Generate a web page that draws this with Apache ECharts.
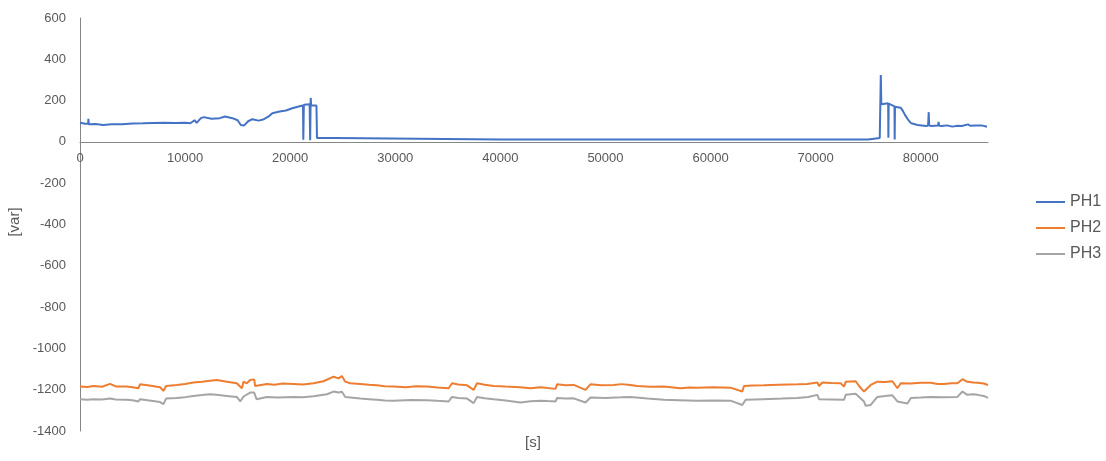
<!DOCTYPE html>
<html><head><meta charset="utf-8">
<script src="https://cdn.jsdelivr.net/npm/echarts@6/dist/echarts.min.js"></script>
<style>html,body{margin:0;padding:0;background:#fff}#c{width:1106px;height:461px}</style>
</head><body><div id="c"></div>
<script>
const seriesNames = ['PH1', 'PH2', 'PH3'];
const xTicks = [0, 10000, 20000, 30000, 40000, 50000, 60000, 70000, 80000];
const yTicks = [-1400, -1200, -1000, -800, -600, -400, -200, 0, 200, 400, 600];

const ph1Time = [0, 500, 780, 800, 830, 1500, 2200, 3000, 4000, 5000, 6000, 7000, 8000, 9000, 10000, 10500, 10900, 11100, 11500, 11800, 12500, 13300, 13800, 14500, 15000, 15300, 15600, 16000, 16400, 17000, 17500, 18000, 18300, 19000, 19600, 20200, 20800, 21220, 21250, 21300, 21850, 21900, 21950, 22000, 22500, 22550, 24300, 24350, 40000, 60000, 75000, 75100, 76100, 76150, 76200, 76250, 76900, 76920, 76950, 77500, 77520, 77550, 77800, 78100, 78300, 78500, 78800, 79100, 79700, 80500, 80700, 80760, 80800, 81000, 81650, 81700, 81750, 82000, 82500, 83000, 83500, 83900, 84500, 84700, 85200, 85800, 86300];
const ph1Values = [93, 88, 88, 112, 86, 87, 82, 86, 85, 89, 90, 92, 93, 92, 93, 90, 105, 92, 115, 120, 112, 115, 123, 115, 105, 82, 79, 100, 110, 103, 110, 125, 139, 147, 152, 163, 171, 176, 10, 180, 182, 8, 213, 176, 176, 19, 19, 12, 12, 12, 12, 19, 19, 24, 324, 182, 187, 20, 185, 172, 12, 170, 168, 165, 150, 131, 107, 90, 82, 77, 79, 144, 80, 77, 80, 97, 78, 77, 80, 74, 78, 77, 85, 78, 79, 80, 73];

const ph2Time = [0, 700, 1270, 2100, 2860, 3400, 4440, 5000, 5550, 5710, 6600, 7620, 7940, 8190, 9210, 10000, 10790, 11600, 12380, 13020, 13970, 14920, 15400, 15560, 15870, 16190, 16570, 16670, 17780, 18500, 19300, 20320, 21200, 22220, 23170, 24130, 24600, 24920, 25240, 25710, 26670, 27500, 28250, 29000, 29840, 31000, 32000, 33020, 34000, 35080, 35400, 36000, 36830, 37460, 37780, 38500, 39370, 40500, 41910, 42860, 43810, 44500, 45240, 45400, 46200, 46980, 48100, 48570, 49600, 50790, 51500, 52380, 53020, 54300, 55560, 57140, 58000, 58730, 60300, 61900, 63020, 63180, 64000, 65080, 66500, 68250, 69200, 70160, 70320, 70640, 71500, 72380, 72700, 72860, 73810, 74130, 74600, 74920, 75240, 75870, 76600, 77300, 77780, 78100, 79000, 80000, 80950, 81600, 82220, 82900, 83490, 83970, 84440, 85000, 85400, 86000, 86400];
const ph2Values = [-1185, -1187, -1182, -1186, -1172, -1184, -1185, -1188, -1193, -1174, -1180, -1188, -1206, -1182, -1177, -1172, -1165, -1162, -1157, -1153, -1161, -1169, -1193, -1161, -1169, -1153, -1150, -1182, -1172, -1176, -1170, -1172, -1175, -1169, -1159, -1137, -1145, -1134, -1161, -1169, -1172, -1176, -1179, -1183, -1185, -1188, -1183, -1185, -1189, -1193, -1169, -1175, -1179, -1201, -1169, -1176, -1182, -1185, -1188, -1193, -1188, -1192, -1196, -1174, -1178, -1177, -1201, -1174, -1178, -1177, -1173, -1177, -1182, -1186, -1185, -1193, -1189, -1191, -1188, -1190, -1209, -1182, -1180, -1179, -1176, -1174, -1172, -1165, -1182, -1165, -1168, -1169, -1185, -1162, -1159, -1182, -1209, -1193, -1177, -1161, -1163, -1159, -1193, -1169, -1170, -1166, -1166, -1172, -1172, -1169, -1169, -1149, -1162, -1165, -1166, -1170, -1177];

const ph3Time = [0, 700, 1270, 2100, 2860, 3400, 4440, 5000, 5550, 5710, 6600, 7620, 7940, 8190, 9210, 10000, 10790, 11600, 12380, 13200, 13970, 14920, 15250, 15560, 16190, 16570, 16800, 17780, 18800, 20320, 21200, 22220, 23500, 24130, 24600, 24920, 25240, 26670, 27500, 28250, 29000, 29840, 31500, 33020, 34000, 35080, 35400, 36000, 36830, 37460, 37780, 38500, 39370, 40500, 41910, 42860, 43810, 44500, 45240, 45400, 46200, 46980, 48100, 48570, 50000, 51500, 52380, 54000, 55560, 57000, 58730, 60300, 61900, 63020, 63340, 65000, 66800, 68250, 69300, 70160, 70320, 71500, 72700, 72860, 73810, 74600, 74760, 75240, 75870, 76600, 77300, 77780, 78740, 79060, 80000, 80950, 82200, 83490, 83970, 84440, 85000, 85400, 86000, 86400];
const ph3Values = [-1246, -1249, -1246, -1248, -1243, -1247, -1249, -1251, -1257, -1246, -1252, -1260, -1270, -1243, -1240, -1236, -1230, -1226, -1222, -1226, -1230, -1235, -1257, -1233, -1214, -1214, -1246, -1235, -1238, -1235, -1236, -1232, -1222, -1209, -1214, -1210, -1235, -1243, -1246, -1249, -1252, -1254, -1250, -1251, -1254, -1257, -1235, -1240, -1243, -1265, -1235, -1241, -1246, -1252, -1262, -1256, -1253, -1255, -1257, -1240, -1243, -1242, -1262, -1238, -1240, -1237, -1235, -1243, -1249, -1251, -1254, -1252, -1253, -1274, -1249, -1246, -1243, -1240, -1235, -1225, -1246, -1247, -1249, -1225, -1220, -1257, -1278, -1274, -1235, -1231, -1227, -1257, -1267, -1240, -1238, -1235, -1237, -1235, -1209, -1225, -1222, -1225, -1230, -1240];

const colors = ['#4472C4', '#ED7D31', '#A5A5A5'];
const pairs = (t, v) => t.map((x, i) => [x, v[i]]);
const seriesData = [pairs(ph1Time, ph1Values), pairs(ph2Time, ph2Values), pairs(ph3Time, ph3Values)];

const gridTop = 18, gridBottom = 30, chartH = 461;
const plotH = chartH - gridTop - gridBottom;
const yMin = yTicks[0], yMax = yTicks[yTicks.length - 1];
const zeroFromBottom = plotH * (0 - yMin) / (yMax - yMin);

const chart = echarts.init(document.getElementById('c'), null, {renderer: 'canvas'});
const font = 'Liberation Sans, Arial, sans-serif';
chart.setOption({
  animation: false,
  backgroundColor: '#ffffff',
  color: colors,
  grid: {left: 80, right: 118, top: gridTop, bottom: gridBottom, containLabel: false},
  legend: {
    orient: 'vertical', left: 1036, top: 194, padding: 0,
    icon: 'rect',
    itemWidth: 29, itemHeight: 2, itemGap: 10,
    textStyle: {fontFamily: font, fontSize: 16, lineHeight: 16, color: '#595959'},
    data: seriesNames
  },
  xAxis: {
    type: 'value', min: 0, max: 86400, interval: 10000,
    offset: -zeroFromBottom,
    axisLine: {onZero: false, lineStyle: {color: '#868686', width: 1}},
    axisTick: {show: false},
    splitLine: {show: false},
    axisLabel: {
      fontFamily: font, fontSize: 13, color: '#595959', margin: 10,
      showMaxLabel: false,
      formatter: v => xTicks.includes(v) ? String(v) : ''
    }
  },
  yAxis: {
    type: 'value', min: yMin, max: yMax, interval: 200,
    axisLine: {show: true, onZero: false, lineStyle: {color: '#868686', width: 1}},
    axisTick: {show: false},
    splitLine: {show: false},
    axisLabel: {fontFamily: font, fontSize: 13, color: '#595959', margin: 14, formatter: v => String(v)}
  },
  graphic: [
    {type: 'text', x: 15, y: 222, rotation: Math.PI / 2, style: {text: '[var]', font: '15px ' + font, fill: '#595959', align: 'center', verticalAlign: 'middle'}},
    {type: 'text', x: 533, y: 443, style: {text: '[s]', font: '15px ' + font, fill: '#595959', align: 'center', verticalAlign: 'middle'}}
  ],
  series: seriesNames.map((n, i) => ({
    name: n, type: 'line', data: seriesData[i], symbol: 'none', showSymbol: false,
    lineStyle: {width: 2, color: colors[i]}, itemStyle: {color: colors[i]}
  }))
});
</script></body></html>
